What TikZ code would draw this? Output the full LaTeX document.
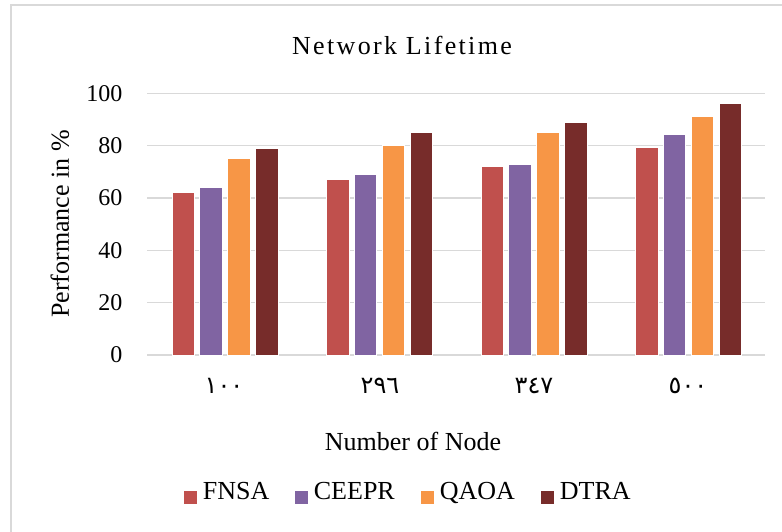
\documentclass[tikz,border=0pt]{standalone}
\usepackage{fontspec}
\setmainfont{Liberation Serif}
\newfontfamily\arabicfont[Script=Arabic]{DejaVu Sans}
\usetikzlibrary{positioning}
\definecolor{fnsa}{HTML}{C0504D}
\definecolor{ceepr}{HTML}{8064A2}
\definecolor{qaoa}{HTML}{F79646}
\definecolor{dtra}{HTML}{772C2A}
\definecolor{gridgray}{HTML}{D9D9D9}
\tikzset{
  gridline/.style={draw=gridgray,line width=1.2bp},
  bar/.style={draw=white,line width=0.8bp},
  keybox/.style={minimum size=13bp,inner sep=0pt},
  keylabel/.style={inner sep=1bp,text height=0.68em,text depth=0.22em,right=5bp of #1}
}

\begin{document}
\begin{tikzpicture}[x=1bp,y=-1bp,font=\fontsize{26bp}{30bp}\selectfont]
					\useasboundingbox (0,0) rectangle (782,532);
					\fill[white] (0,0) rectangle (782,532);
					\draw[gridgray,line width=1.5bp] (11,540) |- (790,5);
					\node (title) at (402,45) {\addfontfeature{LetterSpace=9}Network Lifetime};
					\foreach \val in {0,20,...,100} {
						\draw[gridline] (147,{355-\val*2.616}) -- (765,{355-\val*2.616});
						\node[anchor=east,font=\fontsize{24bp}{28bp}\selectfont] (tick\val) at (126,{355-\val*2.616}) {\val};
					}
					\foreach \grp/\va/\vb/\vc/\vd in {0/62/64/75/79, 1/67/69/80/85, 2/72/73/85/89, 3/79.3/84.3/91.3/96} {
						\begin{scope}[shift={(\grp*154.5,0)}]
							\foreach \col/\val [count=\i from 0] in {fnsa/\va, ceepr/\vb, qaoa/\vc, dtra/\vd} {
								\draw[bar,fill=\col] ({172+27.8*\i},355) rectangle ++(22.5,{-\val*2.616});
							}
						\end{scope}
					}
					\foreach \lab/\xpos [count=\k] in {١٠٠/224, ٢٩٦/380, ٣٤٧/534, ٥٠٠/688} {
						\node[font=\arabicfont\fontsize{24bp}{28bp}\selectfont] (xlab\k) at (\xpos,386) {\lab};
					}
					\node[rotate=90] (ylabel) at (60,224) {Performance in \%};
					\node (xlabel) at (413,441) {Number of Node};
					\foreach \key/\name/\xpos in {fnsa/FNSA/190, ceepr/CEEPR/301, qaoa/QAOA/427, dtra/DTRA/547} {
						\node[keybox,fill=\key] (key\key) at (\xpos,497) {};
						\node[keylabel=key\key] (lab\key) {\name};
					}
				\end{tikzpicture}
\end{document}
